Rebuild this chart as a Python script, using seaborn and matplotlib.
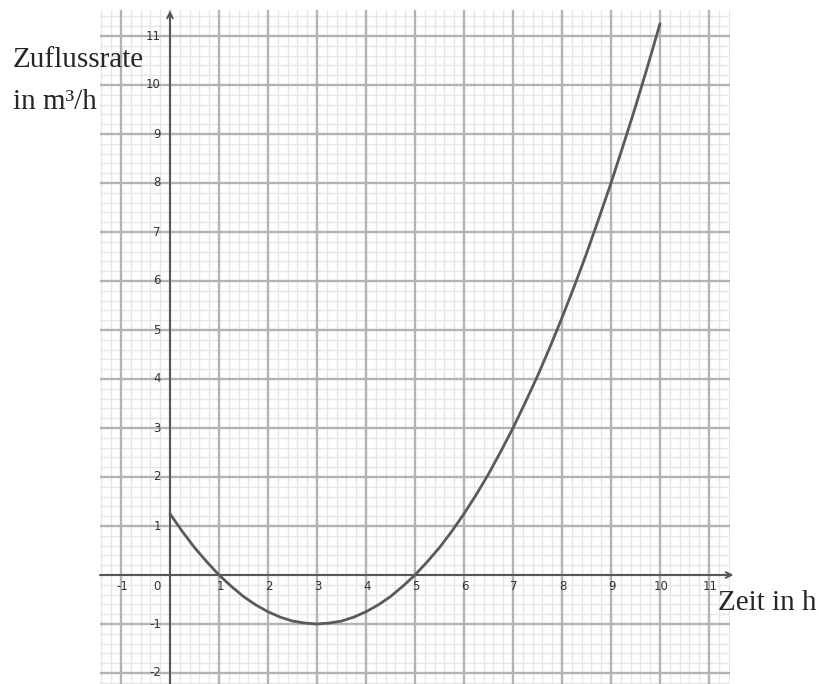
import numpy as np
import pandas as pd
import matplotlib
matplotlib.use("Agg")
import matplotlib.pyplot as plt
import seaborn as sns

# Curve values (time in h -> inflow rate in m³/h)
zeit = [0, 0.25, 0.5, 0.75, 1, 1.25, 1.5, 1.75, 2, 2.25, 2.5, 2.75, 3,
        3.25, 3.5, 3.75, 4, 4.25, 4.5, 4.75, 5, 5.25, 5.5, 5.75, 6,
        6.25, 6.5, 6.75, 7, 7.25, 7.5, 7.75, 8, 8.25, 8.5, 8.75, 9,
        9.25, 9.5, 9.75, 10]
rate = [1.25, 0.89, 0.56, 0.27, 0, -0.23, -0.44, -0.61, -0.75, -0.86, -0.94, -0.98, -1,
        -0.98, -0.94, -0.86, -0.75, -0.61, -0.44, -0.23, 0, 0.27, 0.56, 0.89, 1.25,
        1.64, 2.06, 2.52, 3, 3.52, 4.06, 4.64, 5.25, 5.89, 6.56, 7.27, 8,
        8.77, 9.56, 10.39, 11.25]

x_ticks = [-1, 0, 1, 2, 3, 4, 5, 6, 7, 8, 9, 10, 11]
y_ticks = [-2, -1, 1, 2, 3, 4, 5, 6, 7, 8, 9, 10, 11]

y_title = ["Zuflussrate", "in m³/h"]
x_title = "Zeit in h"

df = pd.DataFrame({"zeit": zeit, "rate": rate})

sns.set_style("white")
W, H = 819, 684
fig = plt.figure(figsize=(W / 100, H / 100), dpi=100)
ax = fig.add_axes([100 / W, 0, 630 / W, 674 / H])

ax.set_xlim(-70 / 49, 560 / 49)
ax.set_ylim(-109 / 49, 565 / 49)

# minor grid every 0.2 (skipping integers), major lines drawn on top
def minor_positions(lo, hi):
    pos = np.round(np.arange(lo, hi, 0.2), 2)
    return [p for p in pos if abs(p - round(p)) > 1e-6]

ax.set_xticks(minor_positions(-1.4, 11.5))
ax.set_yticks(minor_positions(-2.2, 11.6))
ax.grid(True, color="#e6e6e6", lw=1.0)
ax.tick_params(which="both", length=0, labelbottom=False, labelleft=False)
for s in ax.spines.values():
    s.set_visible(False)
ax.set_axisbelow(True)

for t in x_ticks:
    ax.axvline(t, color="#b3b3b3", lw=1.7, zorder=1)
for t in range(-2, 12):
    ax.axhline(t, color="#b3b3b3", lw=1.7, zorder=1)

# axes with arrows
ax.annotate("", xy=(11.5, 0), xytext=(-70 / 49, 0),
            arrowprops=dict(arrowstyle="->", color="#555555", lw=1.4,
                            shrinkA=0, shrinkB=0), annotation_clip=False,
            zorder=2)
ax.annotate("", xy=(0, 11.52), xytext=(0, -109 / 49),
            arrowprops=dict(arrowstyle="->", color="#555555", lw=1.4,
                            shrinkA=0, shrinkB=0), annotation_clip=False,
            zorder=2)

sns.lineplot(data=df, x="zeit", y="rate", ax=ax, color="#5a5a5a", lw=2.0,
             zorder=3)
ax.set_xlabel("")
ax.set_ylabel("")

# tick labels
for t in x_ticks:
    dx = -13 / 49 if t == 0 else 0.02
    ax.text(t + dx, -11 / 49, str(t), ha="center", va="center",
            fontsize=8.5, color="#333333", zorder=4)
for t in y_ticks:
    ax.text(-9 / 49, t, str(t), ha="right", va="center",
            fontsize=8.5, color="#333333", zorder=4)

serif = ["Liberation Serif", "DejaVu Serif"]
fig.text(13 / W, 1 - 60 / H, y_title[0], family=serif, fontsize=21,
         ha="left", va="center")
fig.text(13 / W, 1 - 102 / H, y_title[1], family=serif, fontsize=21,
         ha="left", va="center")
fig.text(718 / W, 1 - 603 / H, x_title, family=serif, fontsize=21,
         ha="left", va="center")

fig.savefig("out.png", dpi=100)
